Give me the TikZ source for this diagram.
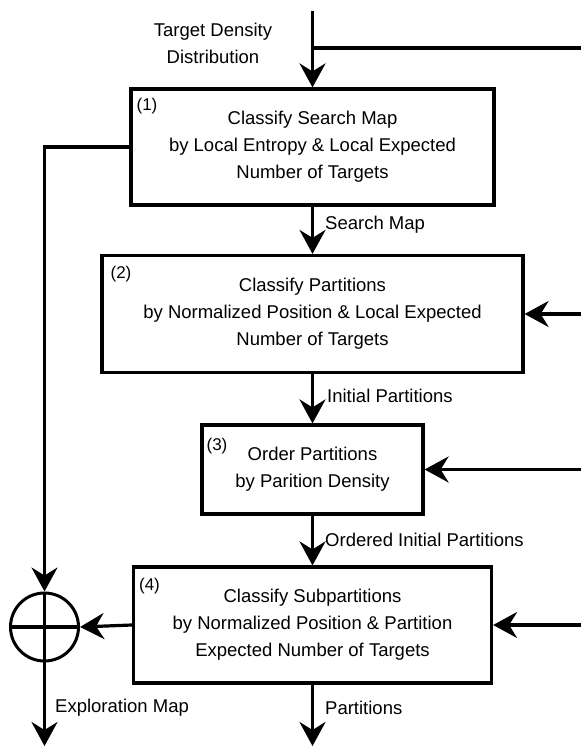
\documentclass[tikz,border=0pt]{standalone}
\usepackage{fontspec}
\setmainfont{Liberation Sans}
\usetikzlibrary{arrows.meta}
\begin{document}
\begin{tikzpicture}[x=1pt,y=-1pt,
  txt/.style={font=\fontsize{18.5}{27}\selectfont},
  box/.style={draw,line width=3.2pt,inner sep=0pt,align=center,txt},
  num/.style={anchor=north west,inner sep=0pt,font=\fontsize{17}{20}\selectfont},
  lbl/.style={anchor=west,inner sep=0pt,txt},
  flow/.style={line width=3.2pt,-{Stealth[length=24pt,width=26pt,inset=8pt]}},
  wire/.style={line width=3.2pt}]
\useasboundingbox (0,0) rectangle (581,746);
\node[box,minimum width=363pt,minimum height=116pt] (b1) at (312.5,147) {Classify Search Map\\by Local Entropy \& Local Expected\\Number of Targets};
\node[box,minimum width=421pt,minimum height=117pt] (b2) at (312.5,314) {Classify Partitions\\by Normalized Position \& Local Expected\\Number of Targets};
\node[box,minimum width=221pt,minimum height=89pt] (b3) at (312.5,469.5) {Order Partitions\\by Parition Density};
\node[box,minimum width=358pt,minimum height=116pt] (b4) at (312.5,625) {Classify Subpartitions\\by Normalized Position \& Partition\\Expected Number of Targets};
\node[num] (n1) at ([xshift=7pt,yshift=-11pt]b1.north west) {(1)};
\node[num] (n2) at ([xshift=10pt,yshift=-12pt]b2.north west) {(2)};
\node[num] (n3) at ([xshift=6pt,yshift=-15pt]b3.north west) {(3)};
\node[num] (n4) at ([xshift=7pt,yshift=-13pt]b4.north west) {(4)};
\node[draw,circle,line width=3pt,minimum size=68pt,inner sep=0pt] (sum) at (44.5,627) {};
\draw[wire] (sum.north) -- (sum.south);
\draw[wire] (sum.west) -- (sum.east);
\coordinate (top) at (312.5,11);
\coordinate (j) at (312.5,48);
\coordinate (tr) at (581,48);
\coordinate (r2) at (581,314);
\coordinate (r3) at (581,469.5);
\coordinate (r4) at (581,625);
\coordinate (o1) at (44.5,746);
\coordinate (o2) at (312.5,746);
\draw[flow] (top) -- (b1.north);
\draw[wire] (j) -- (tr);
\draw[flow] (b1.south) -- (b2.north);
\draw[flow] (b2.south) -- (b3.north);
\draw[flow] (b3.south) -- (b4.north);
\draw[flow] (r2) -- (b2.east);
\draw[flow] (r3) -- (b3.east);
\draw[flow] (r4) -- (b4.east);
\draw[flow] (b1.west) -- (b1.west -| sum.north) -- (sum.north);
\draw[flow] (b4.west) -- (sum.east);
\draw[flow] (sum.south) -- (o1);
\draw[flow] (b4.south) -- (o2);
\node[txt,align=center,inner sep=0pt] (tdd) at (213,43) {Target Density\\Distribution};
\node[lbl] (l1) at (325,225) {Search Map};
\node[lbl] (l2) at (327,396) {Initial Partitions};
\node[lbl] (l3) at (325,540) {Ordered Initial Partitions};
\node[lbl] (l4) at (55,708) {Exploration Map};
\node[lbl] (l5) at (325,708) {Partitions};
\end{tikzpicture}
\end{document}
